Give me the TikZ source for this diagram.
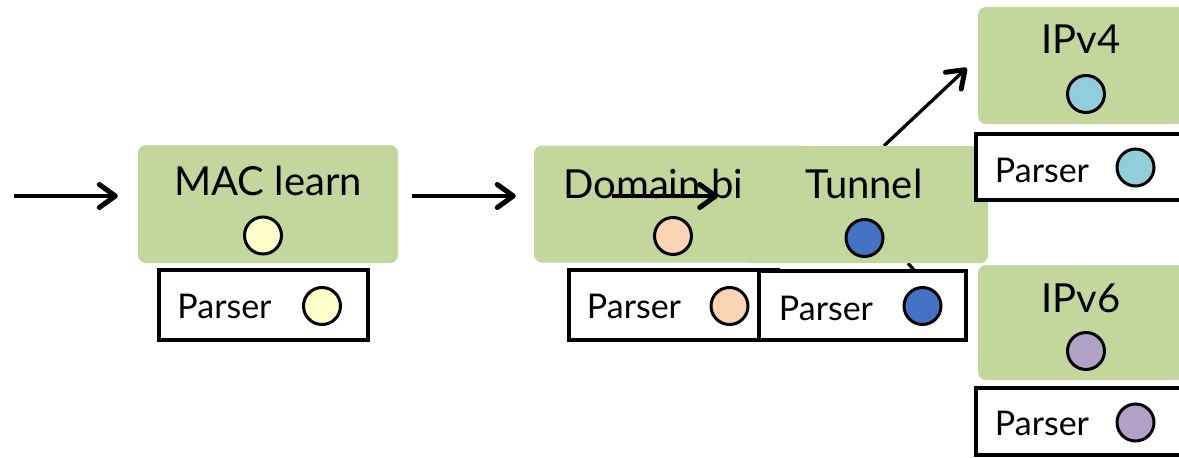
\documentclass[tikz,border=0pt]{standalone}
\usepackage{fontspec}
\setmainfont{Lato}
\usetikzlibrary{arrows.meta}
\usetikzlibrary{backgrounds}
\definecolor{stagegreen}{HTML}{C3D69B}
\definecolor{macyellow}{HTML}{FFFFCC}
\definecolor{dompeach}{HTML}{FBD4B4}
\definecolor{tunblue}{HTML}{4472C4}
\definecolor{vfourblue}{HTML}{92CDDC}
\definecolor{vsixpurple}{HTML}{B2A1C7}

\begin{document}
\begin{tikzpicture}[x=1pt, y=-1pt,
    stage/.style={fill=stagegreen, rounded corners=8pt, inner sep=0pt},
    parser/.style={draw, line width=4pt, fill=white, inner sep=0pt},
    tag/.style={circle, draw, line width=3pt, minimum size=37pt, inner sep=0pt},
    title/.style={font=\fontsize{40}{44}\selectfont, inner sep=0pt, anchor=base},
    ptext/.style={font=\fontsize{34}{38}\selectfont, inner sep=0pt, anchor=base},
    arr/.style={line width=3.3pt, -{Straight Barb[length=16pt, width=23pt, line width=5pt, round]}}]
    \useasboundingbox (0,0) rectangle (1179,458);
    \clip (0,0) rectangle (1179,458);

    \coordinate (in) at (14,196);

    \node[stage, minimum width=260pt, minimum height=118pt] (mac) at (268,204) {};
    \node[title] (mact) at (268,195) {MAC learn};
    \node[tag, fill=macyellow] (macc) at (263,235.5) {};
    \node[parser, minimum width=209pt, minimum height=70pt] (macp) at (263.5,305) {};
    \node[ptext] (macpt) at (224.5,318) {Parser};
    \node[tag, fill=macyellow] (macpc) at (322,306) {};

    \draw[arr, shorten >=20pt] (in) -- (in -| mac.west);

    \node[stage, minimum width=273pt, minimum height=117pt] (dom) at (670.5,204) {};
    \node[title, anchor=base west] (domt) at (563,198) {Domain bi};
    \node[tag, fill=dompeach] (domc) at (673,236) {};
    \node[parser, minimum width=209pt, minimum height=70pt] (domp) at (673.5,305) {};
    \node[ptext] (dompt) at (634,318) {Parser};
    \node[tag, fill=dompeach] (dompc) at (729.5,306) {};

    \draw[arr, shorten <=14pt, shorten >=18pt] (in -| mac.east) -- (in -| dom.west);
    \draw[arr, shorten <=78pt, shorten >=89pt] (in -| dom.west) -- (in -| dom.east);

    \node[stage, minimum width=248pt, minimum height=117pt] (tun) at (864,204.5) {};
    \node[title] (tunt) at (864,198) {Tunnel};
    \node[tag, fill=tunblue] (tunc) at (864.5,238) {};
    \node[parser, minimum width=207pt, minimum height=69pt] (tunp) at (862.5,305.5) {};
    \node[ptext] (tunpt) at (826,320) {Parser};
    \node[tag, fill=tunblue] (tunpc) at (922.5,306) {};

    \node[stage, minimum width=216pt, minimum height=117pt] (ipv4) at (1086,65.5) {};
    \node[title] (ipv4t) at (1081,53) {IPv4};
    \node[tag, fill=vfourblue] (ipv4c) at (1086,94) {};
    \node[parser, minimum width=209pt, minimum height=66pt] (ipv4p) at (1080.5,167) {};
    \node[ptext] (ipv4pt) at (1042,182) {Parser};
    \node[tag, fill=vfourblue] (ipv4pc) at (1135.5,167.5) {};

    \node[stage, minimum width=216pt, minimum height=115pt] (ipv6) at (1086,322.5) {};
    \node[title] (ipv6t) at (1081,312) {IPv6};
    \node[tag, fill=vsixpurple] (ipv6c) at (1086,351) {};
    \node[parser, minimum width=209pt, minimum height=67pt] (ipv6p) at (1080.5,421.5) {};
    \node[ptext] (ipv6pt) at (1042,435) {Parser};
    \node[tag, fill=vsixpurple] (ipv6pc) at (1135.5,422.5) {};

    \begin{scope}[on background layer]
        \draw[arr] ([xshift=20pt]tun.north) -- ([xshift=-11pt, yshift=-2.5pt]ipv4.west);
        \draw[arr] ([xshift=44pt]tun.south) -- ([xshift=-18pt]ipv6.west);
    \end{scope}
\end{tikzpicture}
\end{document}
